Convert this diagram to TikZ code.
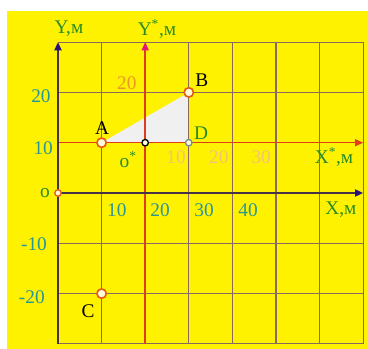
\documentclass[tikz,border=0pt]{standalone}
\usepackage{fontspec}
\setmainfont{Liberation Serif}
\usetikzlibrary{arrows.meta, positioning, calc}
\definecolor{bgyellow}{RGB}{255,242,0}
\definecolor{gridbrown}{RGB}{135,105,95}
\definecolor{axisdark}{RGB}{70,50,70}
\definecolor{arrnavy}{RGB}{40,20,120}
\definecolor{axisred}{RGB}{222,60,30}
\definecolor{arrpink}{RGB}{230,20,120}
\definecolor{lblgreen}{RGB}{40,140,40}
\definecolor{lblteal}{RGB}{40,150,150}
\definecolor{lblorange}{RGB}{235,150,40}
\definecolor{lblpeach}{RGB}{242,195,115}
\definecolor{ringorange}{RGB}{230,90,20}
\definecolor{ringgray}{RGB}{120,140,150}

\begin{document}
\begin{tikzpicture}[
  x=0.1308cm, y=0.1509cm,
  every node/.style={font=\fontsize{16.5}{19}\selectfont, inner sep=0pt},
  gridline/.style={draw=gridbrown, line width=1pt},
  mainaxis/.style={draw=axisdark, line width=1.6pt},
  primeaxis/.style={draw=axisred, line width=1.2pt},
  tick/.style={text=lblteal},
  ptick/.style={text=lblpeach},
  axlbl/.style={text=lblgreen},
  ptlbl/.style={text=black},
  bigring/.style={circle, draw=ringorange, line width=1.4pt, fill=white!85!yellow,
                  minimum size=8pt},
  smallring/.style={circle, line width=1.1pt, fill=white!85!yellow, minimum size=5.5pt}
]
  \useasboundingbox (-13.30,-31.01) rectangle (71.10,38.37);
  \fill[bgyellow] (-11.70,-31.01) rectangle (71.10,36.18);

  % Points
  \coordinate (o)  at (0,0);
  \coordinate (os) at (20,10);
  \coordinate (a)  at (10,10);
  \coordinate (b)  at (30,20);
  \coordinate (d)  at (30,10);
  \coordinate (c)  at (10,-20);

  % Triangle
  \fill[white!94!black] (a) -- (b) -- (d) -- cycle;

  % Grid
  \foreach \gx in {10,30,40,50,60,70}
    \draw[gridline] (\gx,-30) -- (\gx,30);
  \foreach \gy in {-30,-20,-10,20,30}
    \draw[gridline] (0,\gy) -- (70,\gy);

  % Axes
  \draw[primeaxis, -{Triangle[length=7pt, width=6pt, color=axisred]}] (0,10) -- (70,10);
  \draw[primeaxis, -{Triangle[length=7pt, width=6pt, color=arrpink]}] (20,-30) -- (20,30);
  \draw[mainaxis, -{Triangle[length=7pt, width=6pt, color=arrnavy]}] (0,0) -- (70,0);
  \draw[mainaxis, -{Triangle[length=7pt, width=6pt, color=arrnavy]}] (0,-30) -- (0,30);

  % Markers
  \node[bigring] (ma) at (a) {};
  \node[bigring] (mb) at (b) {};
  \node[bigring] (mc) at (c) {};
  \node[smallring, draw=ringorange] (mo) at (o) {};
  \node[smallring, draw=black] (mos) at (os) {};
  \node[smallring, draw=ringgray] (md) at (d) {};

  % Point labels
  \node[ptlbl] at (10.1,12.9) {A};
  \node[ptlbl] at (33.0,22.5) {B};
  \node[text=lblgreen] at (32.8,11.9) {D};
  \node[ptlbl] at (6.9,-23.5) {C};
  \node[axlbl] at (16.1,6.6) {o\textsuperscript{*}};
  \node[axlbl] at (-3.0,0) {o};

  % Axis labels
  \node[axlbl] at (2.52,32.6) {Y,м};
  \node[axlbl] at (22.7,32.6) {Y\textsuperscript{*},м};
  \node[axlbl] at (64.9,-3.4) {X,м};
  \node[axlbl] at (63.3,7.2) {X\textsuperscript{*},м};

  % Ticks, main axes
  \node[tick] at (-3.9,19.3) {20};
  \node[tick] at (-3.4,8.9) {10};
  \node[tick] at (-5.5,-10.1) {-10};
  \node[tick] at (-6.0,-20.7) {-20};
  \foreach \tx/\tv in {13.5/10, 23.4/20, 33.5/30, 43.6/40}
    \node[tick] at (\tx,-3.4) {\tv};

  % Ticks, primed axes
  \node[text=lblorange] at (15.8,21.9) {20};
  \foreach \tx/\tv in {27.1/10, 36.9/20, 46.6/30}
    \node[ptick] at (\tx,7.2) {\tv};
\end{tikzpicture}
\end{document}
